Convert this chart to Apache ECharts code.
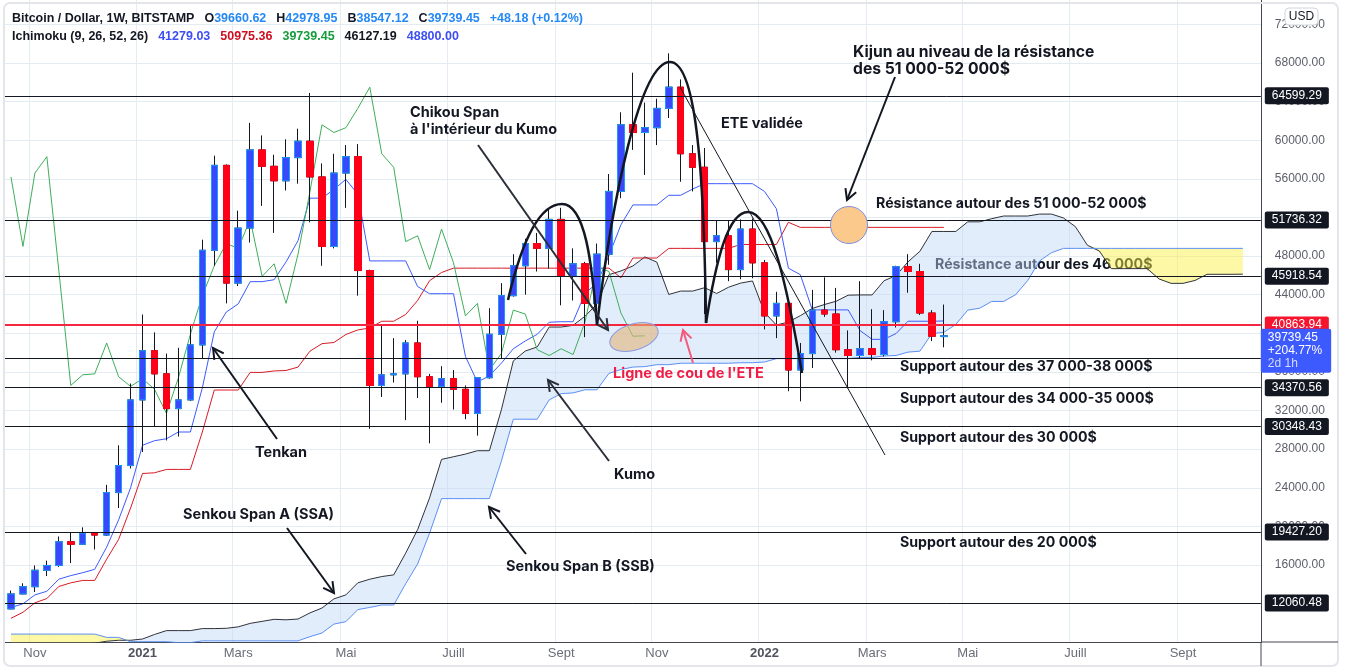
<!DOCTYPE html>
<html><head><meta charset="utf-8">
<script src="https://cdn.jsdelivr.net/npm/echarts@6/dist/echarts.min.js"></script>
<style>html,body{margin:0;padding:0;background:#fff}#c{width:1345px;height:671px}</style>
</head><body><div id="c"></div>
<script>
const categories = ['2020-10-19','2020-10-26','2020-11-02','2020-11-09','2020-11-16','2020-11-23','2020-11-30','2020-12-07','2020-12-14','2020-12-21','2020-12-28',
'2021-01-04','2021-01-11','2021-01-18','2021-01-25','2021-02-01','2021-02-08','2021-02-15','2021-02-22','2021-03-01','2021-03-08','2021-03-15','2021-03-22','2021-03-29',
'2021-04-05','2021-04-12','2021-04-19','2021-04-26','2021-05-03','2021-05-10','2021-05-17','2021-05-24','2021-05-31','2021-06-07','2021-06-14','2021-06-21','2021-06-28',
'2021-07-05','2021-07-12','2021-07-19','2021-07-26','2021-08-02','2021-08-09','2021-08-16','2021-08-23','2021-08-30','2021-09-06','2021-09-13','2021-09-20','2021-09-27',
'2021-10-04','2021-10-11','2021-10-18','2021-10-25','2021-11-01','2021-11-08','2021-11-15','2021-11-22','2021-11-29','2021-12-06','2021-12-13','2021-12-20','2021-12-27',
'2022-01-03','2022-01-10','2022-01-17','2022-01-24','2022-01-31','2022-02-07','2022-02-14','2022-02-21','2022-02-28','2022-03-07','2022-03-14','2022-03-21','2022-03-28',
'2022-04-04','2022-04-11','2022-04-18','2022-04-25','2022-05-02','2022-05-09','2022-05-16','2022-05-23','2022-05-30','2022-06-06','2022-06-13','2022-06-20','2022-06-27',
'2022-07-04','2022-07-11','2022-07-18','2022-07-25','2022-08-01','2022-08-08','2022-08-15','2022-08-22','2022-08-29','2022-09-05','2022-09-12','2022-09-19','2022-09-26',
'2022-10-03','2022-10-10','2022-10-17'];

const open = [11450,13000,13750,15450,15950,18400,18150,19300,19100,23500,26300,33100,38200,35800,32200,33100,38800,48600,57400,45200,
50900,59000,57300,55800,58200,59900,56200,49000,56600,58300,46500,34600,35700,35800,39000,35500,34500,35300,34200,31700,
35400,39900,43900,47000,49300,48800,51800,45900,47200,43100,48200,54700,61600,60800,61300,63300,65500,58600,57200,49500,
50100,46600,50800,47300,41800,43100,36200,37900,42400,42000,38300,37700,38400,37800,41200,46900,46400,42100,39660.62];
const high = [13350,14100,15950,16450,18950,19400,19900,19400,24300,28400,34800,41950,40100,37900,38500,40900,49700,58400,57500,52700,
61800,60500,58500,60100,61200,64900,57600,58600,59500,59600,46600,40900,39500,39300,41300,35800,36600,36200,34600,35400,
42600,45200,48200,49800,50400,52900,53000,48800,47400,49300,56500,62900,67000,63900,64300,69000,66300,59500,59200,51700,
51700,51800,51900,47600,44300,43500,39000,44500,45800,44700,40300,45400,42500,42400,47000,48200,47200,42400,42978.95];
const low = [11400,12950,13200,14850,15800,16200,18100,17600,19000,21900,26000,27700,30400,28900,29300,33000,37400,47000,43100,44900,
49400,53200,50400,54800,55500,51500,47000,48800,53000,43900,30100,33400,34900,31000,33300,28600,32800,32100,31100,29400,
35300,37400,43800,44000,46400,46700,42900,43400,39600,40900,47100,54000,59000,56400,59500,62300,55700,54700,42000,47300,
45400,45600,45700,40400,39500,34000,32950,36400,41700,38000,34300,37400,37200,37600,40600,44200,41900,39200,38547.12];
const close = [13000,13750,15450,15950,18400,18150,19300,19100,23500,26300,33100,38200,35800,32200,33100,38800,48600,57400,45200,50900,
59000,57300,55800,58200,59900,56200,49000,56600,58300,46500,34600,35700,35800,39000,35500,34500,35300,34200,31700,35400,
39900,43900,47000,49300,48800,51800,45900,47200,43100,48200,54700,61600,60800,61300,63300,65500,58600,57200,49500,50100,
46600,50800,47300,41800,43100,36200,37900,42400,42000,38300,37700,38400,37800,41200,46900,46400,42100,39700,39739.45];

const tenkan = [11600,11975,12900,13275,14525,14900,15200,15550,17850,20675,24000,28400,28875,29075,29775,29775,34350,40150,42200,43050,
45350,45350,45550,47400,49600,54000,54000,54900,55950,54400,47500,47500,47500,47500,44850,44100,44100,44100,37600,34950,
35600,36900,38400,39200,39900,41150,41200,41200,44150,45200,48050,51250,53300,53300,53300,54300,54300,54950,55500,55500,
55500,55500,55500,54700,52900,46750,46075,42425,42425,42425,42425,40275,39375,39375,39975,41250,41250,41250,41279.03];
const kijun = [10475,11100,12075,12525,13775,14150,14400,14400,16600,18650,21900,25475,25550,25900,25900,25900,29775,34125,34125,34125,
35950,35950,36100,36150,36500,38150,38925,39050,39875,40350,40550,41250,41250,41950,43400,45450,46300,46750,46750,46750,
46750,46750,46750,46750,46750,46750,46750,46750,46750,46750,46750,45750,47800,47800,47800,48800,48800,48800,48800,48800,
48800,49200,49200,49200,49200,51500,50975,50975,50975,50975,50975,50975,50975,50975,50975,50975,50975,50975,50975.36];
const chikou = [56200,49000,56600,58300,46500,34600,35700,35800,39000,35500,34500,35300,34200,31700,35400,39900,43900,47000,49300,48800,
51800,45900,47200,43100,48200,54700,61600,60800,61300,63300,65500,58600,57200,49500,50100,46600,50800,47300,41800,43100,
36200,37900,42400,42000,38300,37700,38400,37800,41200,46900,46400,42100,39700,39739.45];
const ssa = [6900,7000,7200,7500,7550,7800,7800,7900,8100,8200,8200,8330,8800,9200,9200,9200,9410,9410,9440,9590,9950,10160,10370,10320,10400,
11037.5,11537.5,12487.5,12900,14150,14525,14800,14975,17225,19662.5,22950,26937.5,27212.5,27487.5,27837.5,27837.5,32062.5,37137.5,38162.5,38587.5,
40650,40650,40825,41775,43050,46075,46462.5,46975,47912.5,47375,44025,44375,44375,44725,44125,44775,45200,45425,42175,40850,
41175,41825,42575,42975,43325,43950,43975,43975,45450,45975,47400,48500,50550,50550,50550,51550,51550,51875,52150,52150,
52150,52350,52350,51950,51050,49125,48525,46700,46700,46700,46700,45625,45175,45175,45475,46112.5,46112.5,46112.5,46127.19];
const ssb = [8840,8840,8840,8840,8840,8840,8840,8840,8500,8500,8050,8050,8050,8050,7950,7950,8140,8140,8140,8140,8140,8140,8140,8140,8140,
8575,8950,9875,10125,11375,11600,11850,11850,14050,16100,19300,22875,22875,22875,22875,22875,26750,31100,31100,31100,
33100,33750,33825,34150,34150,35850,36250,36500,36550,36750,36750,36900,36900,36900,36900,36900,36950,36950,37025,37375,
37375,37375,37375,37375,37375,37375,37500,37500,37650,37700,38050,38150,39975,40100,40925,42400,42600,43300,43300,44000,
45450,47500,48350,48800,48800,48800,48800,48800,48800,48800,48800,48800,48800,48800,48800,48800,48800,48800,48800];

const levels = [64599.29, 51736.32, 45918.54, 37394.59, 34370.56, 30348.43, 19427.20, 12060.48];
const neckline = 40863.94;
const lastPrice = 39739.45;
const lastInfo = ['+204.77%', '2d 1h'];
const xTickDates = ['2020-11-02','2021-01-04','2021-03-01','2021-05-03','2021-07-05','2021-09-06','2021-11-01','2022-01-03','2022-03-07','2022-05-02','2022-07-04','2022-09-05'];
const xTickLabels = ['Nov','2021','Mars','Mai','Juill','Sept','Nov','2022','Mars','Mai','Juill','Sept'];

const FONT = '"Liberation Sans", Arial, sans-serif';
const BFONT = 'Inter, "Liberation Sans", sans-serif';

const ohlc = open.map((o, i) => [o, close[i], low[i], high[i]]);
const bodies = open.map((o, i) => [o, close[i], Math.min(o, close[i]), Math.max(o, close[i])]);
const cloudBase = ssa.map((a, i) => Math.min(a, ssb[i]));
const cloudBull = ssa.map((a, i) => Math.max(a - ssb[i], 0));
const cloudBear = ssa.map((a, i) => Math.max(ssb[i] - a, 0));

function lineS(name, data, color, w) {
  return {type: 'line', name, data, symbol: 'none', showSymbol: false, silent: true,
    lineStyle: {color, width: w || 1}, z: 2, animation: false};
}
function stackS(name, data, fill) {
  return {type: 'line', name, data, stack: 'cloud', symbol: 'none', showSymbol: false, silent: true,
    lineStyle: {opacity: 0, width: 0}, areaStyle: fill ? {color: fill, opacity: 1} : undefined, z: 2, animation: false};
}
const lblBase = {show: true, position: 'end', distance: 4, color: '#ffffff', fontSize: 12, fontFamily: FONT,
  padding: [3, 7, 2, 7], borderRadius: 2};
const markData = levels.map(v => ({
  yAxis: v, lineStyle: {color: '#131722', width: 1, type: 'solid'},
  label: Object.assign({}, lblBase, {backgroundColor: '#131722', formatter: () => v.toFixed(2)})
}));
markData.push({yAxis: neckline, lineStyle: {color: '#f5263f', width: 2, type: 'solid'},
  label: Object.assign({}, lblBase, {backgroundColor: '#f7152e', formatter: () => neckline.toFixed(2)})});
const lastMark = [{yAxis: lastPrice, lineStyle: {color: 'rgba(0,0,0,0)', width: 1, type: 'solid'},
  label: {show: true, position: 'end', distance: 0, backgroundColor: '#3d5afe', borderRadius: 2,
    verticalAlign: 'top', offset: [0, -7], padding: [2, 9, 3, 7], lineHeight: 13, color: '#fff', fontSize: 12, fontFamily: FONT,
    formatter: () => '{a|' + lastPrice.toFixed(2) + '}\n{a|' + lastInfo[0] + '}\n{b|' + lastInfo[1] + '}',
    rich: {a: {color: '#fff', fontSize: 12, fontFamily: FONT, lineHeight: 13}, b: {color: '#d6dcff', fontSize: 12, fontFamily: FONT, lineHeight: 13}}}}];

function T(x, y, text, extra) {
  return {type: 'text', x, y, z: 100, silent: true,
    style: Object.assign({text, fill: '#131722', font: 'bold 14.5px ' + BFONT, verticalAlign: 'middle', align: 'left'}, extra || {})};
}
function arrow(x1, y1, x2, y2, color, w, L) {
  color = color || '#131722'; w = w || 2; L = L || 12;
  const a = Math.atan2(y2 - y1, x2 - x1), s = 0.5;
  return [
    {type: 'line', z: 100, silent: true, shape: {x1, y1, x2, y2}, style: {stroke: color, lineWidth: w}},
    {type: 'polyline', z: 100, silent: true, shape: {points: [[x2 - L * Math.cos(a - s), y2 - L * Math.sin(a - s)], [x2, y2], [x2 - L * Math.cos(a + s), y2 - L * Math.sin(a + s)]]},
      style: {stroke: color, lineWidth: w, fill: null}}
  ];
}
function bez(x1, y1, cpx1, cpy1, cpx2, cpy2, x2, y2) {
  return {type: 'bezierCurve', z: 100, silent: true, shape: {x1, y1, cpx1, cpy1, cpx2, cpy2, x2, y2},
    style: {stroke: '#131722', lineWidth: 2.5, fill: null}};
}

const graphics = [
  {type: 'rect', z: 90, silent: true, shape: {x: 4, y: 3, width: 1334, height: 663, r: 6}, style: {stroke: '#e3e5ea', lineWidth: 2, fill: null}},
  {type: 'line', z: 90, silent: true, shape: {x1: 1261, y1: 642, x2: 1338, y2: 642}, style: {stroke: '#434651', lineWidth: 1}},
  {type: 'line', z: 90, silent: true, shape: {x1: 1261, y1: 642, x2: 1261, y2: 666}, style: {stroke: '#434651', lineWidth: 1}},
  {type: 'rect', z: 100, silent: true, shape: {x: 1285, y: 8, width: 33, height: 17, r: 4}, style: {fill: '#ffffff', stroke: '#d1d4dc', lineWidth: 1}},
  {type: 'text', z: 101, silent: true, x: 1301.5, y: 17, style: {text: 'USD', fill: '#131722', font: '12px ' + FONT, align: 'center', verticalAlign: 'middle'}},
  {type: 'line', z: 100, silent: true, shape: {x1: 680, y1: 87, x2: 885, y2: 455}, style: {stroke: '#131722', lineWidth: 1}},
  bez(508, 300, 522, 240, 540, 204, 562, 204), bez(562, 204, 585, 204, 592, 262, 597, 325),
  bez(597, 325, 612, 200, 640, 62, 670, 62), bez(670, 62, 695, 62, 704, 160, 706, 323),
  bez(706, 323, 716, 260, 728, 212, 748, 212), bez(748, 212, 771, 212, 787, 285, 802, 373),
  {type: 'circle', z: 100, silent: true, shape: {cx: 849, cy: 225, r: 18.5}, style: {fill: '#fcc98c', stroke: '#7f8de0', lineWidth: 1}},
  {type: 'ellipse', z: 100, silent: true, x: 634, y: 337, rotation: 0.3, shape: {cx: 0, cy: 0, rx: 25, ry: 13}, style: {fill: 'rgba(226,180,120,0.6)', stroke: '#8a9be0', lineWidth: 1}},
  ...arrow(277, 439, 213, 348),
  ...arrow(287, 528, 334, 593),
  ...arrow(526, 554, 489, 507),
  ...arrow(609, 461, 548, 380, '#2a2e39'),
  ...arrow(478, 145, 608, 330, '#2a2e39'),
  ...arrow(895, 77, 847, 200),
  ...arrow(693, 363, 683, 330, '#f25c7a'),
  T(853, 52, 'Kijun au niveau de la résistance', {font: 'bold 15.7px ' + BFONT}),
  T(853, 69, 'des 51 000-52 000$', {font: 'bold 15.7px ' + BFONT}),
  T(721, 124, 'ETE validée'),
  T(410, 113, 'Chikou Span'),
  T(410, 130, "à l'intérieur du Kumo"),
  T(876, 204, 'Résistance autour des 51 000-52 000$', {font: 'bold 14.2px ' + BFONT}),
  Object.assign(T(935, 265, 'Résistance autour des 46 000$', {font: 'bold 14.2px ' + BFONT}), {z: 1}),
  T(900, 367, 'Support autour des 37 000-38 000$', {font: 'bold 14.2px ' + BFONT}),
  T(900, 399, 'Support autour des 34 000-35 000$', {font: 'bold 14.2px ' + BFONT}),
  T(900, 438, 'Support autour des 30 000$', {font: 'bold 14.2px ' + BFONT}),
  T(900, 543, 'Support autour des 20 000$', {font: 'bold 14.2px ' + BFONT}),
  T(613, 374, "Ligne de cou de l'ETE", {fill: '#f01e46'}),
  T(255, 453, 'Tenkan'),
  T(614, 475, 'Kumo'),
  T(183, 515, 'Senkou Span A (SSA)'),
  T(506, 567, 'Senkou Span B (SSB)')
];

const option = {
  animation: false,
  backgroundColor: '#ffffff',
  textStyle: {fontFamily: FONT},
  title: [
    {left: 12, top: 10, padding: 0,
     text: '{n|Bitcoin / Dollar, 1W, BITSTAMP}  {k|O}{v|39660.62}  {k|H}{v|42978.95}  {k|B}{v|38547.12}  {k|C}{v|39739.45}  {v|+48.18 (+0.12%)}',
     textStyle: {rich: {n: {color: '#131722', fontSize: 12.5, fontFamily: FONT}, k: {color: '#131722', fontSize: 12.5, fontFamily: FONT}, v: {color: '#2589f5', fontSize: 12.5, fontFamily: FONT}}}},
    {left: 12, top: 28, padding: 0,
     text: '{n|Ichimoku (9, 26, 52, 26)}  {t|41279.03}  {r|50975.36}  {g|39739.45}  {n|46127.19}  {t|48800.00}',
     textStyle: {rich: {n: {color: '#131722', fontSize: 12.5, fontFamily: FONT}, t: {color: '#3d4ff2', fontSize: 12.5, fontFamily: FONT}, r: {color: '#cc1020', fontSize: 12.5, fontFamily: FONT}, g: {color: '#169c3c', fontSize: 12.5, fontFamily: FONT}}}}
  ],
  grid: {left: 5, top: -14.2, width: 1255.8, height: 656.4, containLabel: false, outerBoundsMode: 'none'},
  xAxis: {
    type: 'category', data: categories, boundaryGap: true,
    axisLine: {show: true, lineStyle: {color: '#434651', width: 1}},
    axisTick: {show: false},
    axisLabel: {
      interval: (i, v) => xTickDates.indexOf(v) >= 0, margin: 5, color: '#6a6d78', fontSize: 13, fontFamily: FONT,
      formatter: (v) => { const t = xTickLabels[xTickDates.indexOf(v)] || ''; return /^\d{4}$/.test(t) ? '{y|' + t + '}' : t; },
      rich: {y: {fontWeight: 'bold', color: '#50535e', fontSize: 13, fontFamily: FONT}}
    },
    splitLine: {show: true, interval: (i, v) => xTickDates.indexOf(v) >= 0, lineStyle: {color: '#e3ebf3', width: 1}}
  },
  yAxis: {
    type: 'value', position: 'right', min: 8000, max: 76000, interval: 4000, scale: false,
    axisLine: {show: true, lineStyle: {color: '#434651', width: 1}},
    axisTick: {show: false},
    axisLabel: {margin: 14, color: '#5d606b', fontSize: 12, fontFamily: FONT, showMinLabel: false, formatter: (v) => v.toFixed(2)},
    splitLine: {show: true, lineStyle: {color: '#e3ebf3', width: 1}}
  },
  series: [
    stackS('cloudBase', cloudBase, null),
    stackS('cloudBull', cloudBull, 'rgba(190,215,248,0.45)'),
    stackS('cloudBear', cloudBear, 'rgba(251,240,66,0.47)'),
    lineS('SSA', ssa, '#2f3238'),
    lineS('SSB', ssb, '#5b8ff5'),
    lineS('Kijun', kijun, '#d81b27'),
    lineS('Tenkan', tenkan, '#3d5afe'),
    lineS('Chikou', chikou, '#3fae5a'),
    {type: 'candlestick', name: 'wicks', data: ohlc, barWidth: 7, silent: true, z: 3,
     itemStyle: {color: '#3a48fc', color0: '#ff0018', borderColor: '#131722', borderColor0: '#131722', borderWidth: 1},
     markLine: {silent: true, symbol: ['none', 'none'], animation: false, z: 6, data: lastMark}},
    {type: 'candlestick', name: 'bodies', data: bodies, barWidth: 7, silent: true, z: 3,
     itemStyle: {color: '#3a48fc', color0: '#ff0018', borderColor: '#1e9bff', borderColor0: '#ff0018', borderWidth: 1},
     markLine: {silent: true, symbol: ['none', 'none'], animation: false, z: 5, data: markData}}
  ],
  graphic: graphics
};
const chart = echarts.init(document.getElementById('c'));
chart.setOption(option);
</script>
</body></html>
